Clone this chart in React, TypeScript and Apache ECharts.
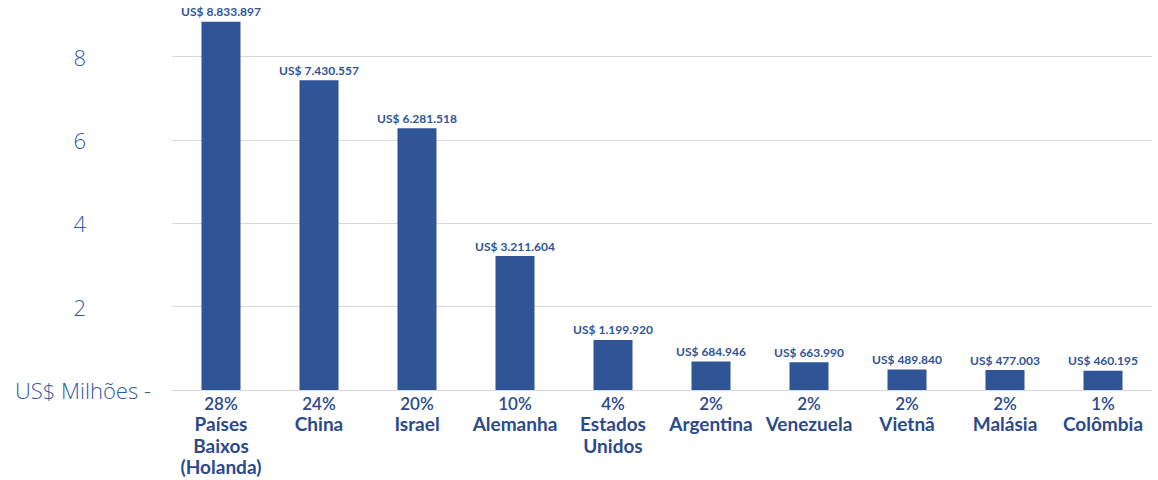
import React, { useEffect, useRef } from "react";
import * as echarts from "echarts";

const countries = [
  "Países\nBaixos\n(Holanda)",
  "China",
  "Israel",
  "Alemanha",
  "Estados\nUnidos",
  "Argentina",
  "Venezuela",
  "Vietnã",
  "Malásia",
  "Colômbia",
];
const shares = ["28%", "24%", "20%", "10%", "4%", "2%", "2%", "2%", "2%", "1%"];
const valuesUSD = [8833897, 7430557, 6281518, 3211604, 1199920, 684946, 663990, 489840, 477003, 460195];
const yTicks = [0, 2, 4, 6, 8];
const yAxisTitle = "US$ Milhões -";

const fmt = (v: number) => "US$ " + String(v).replace(/\B(?=(\d{3})+(?!\d))/g, ".");

export default function App() {
  const ref = useRef<HTMLDivElement>(null);
  useEffect(() => {
    if (!ref.current) return;
    const chart = echarts.init(ref.current, null, { renderer: "svg" });
    const blue = "#2F5597";
    chart.setOption({
      animation: false,
      grid: { left: 172, right: 6, top: 56.5, bottom: 90, containLabel: false },
      xAxis: {
        type: "category",
        data: countries,
        axisTick: { show: false },
        axisLine: { lineStyle: { color: "#d9d9d9", width: 1 } },
        axisLabel: {
          margin: 4,
          interval: 0,
          formatter: (val: string, idx: number) => {
            const lines = val.split("\n").map((l) => `{c|${l}}`).join("\n");
            return `{p|${shares[idx]}}\n${lines}`;
          },
          rich: {
            p: { fontFamily: "Lato", fontSize: 17, fontWeight: 600, color: "#2B4A8C", lineHeight: 19 },
            c: { fontFamily: "Lato", fontSize: 19, fontWeight: "bold", color: "#2B4A8C", lineHeight: 21.5 },
          },
        },
      },
      yAxis: {
        type: "value",
        min: yTicks[0],
        max: yTicks[yTicks.length - 1],
        interval: 2,
        axisLine: { show: false },
        axisTick: { show: false },
        splitLine: { lineStyle: { color: "#d9d9d9", width: 1 } },
        axisLabel: {
          margin: 21,
          fontFamily: "Open Sans",
          fontSize: 22,
          fontWeight: 300,
          color: "#3559A3",
          formatter: (v: number) => (v === 0 ? yAxisTitle : `{n|${v}}`),
          rich: {
            n: { fontFamily: "Open Sans", fontSize: 22, fontWeight: 300, color: "#3559A3", padding: [0, 65, 0, 0] },
          },
        },
      },
      series: [
        {
          type: "bar",
          clip: false,
          barWidth: 39,
          data: valuesUSD.map((v) => v / 1e6),
          itemStyle: { color: blue },
          label: {
            show: true,
            position: "top",
            distance: 4,
            fontFamily: "Lato",
            fontSize: 12,
            fontWeight: "bold",
            color: blue,
            formatter: (p: any) => fmt(valuesUSD[p.dataIndex]),
          },
        },
      ],
    });
    return () => chart.dispose();
  }, []);
  return <div ref={ref} style={{ position: "fixed", left: 0, top: 0, width: 1158, height: 480, background: "#fff" }} />;
}
